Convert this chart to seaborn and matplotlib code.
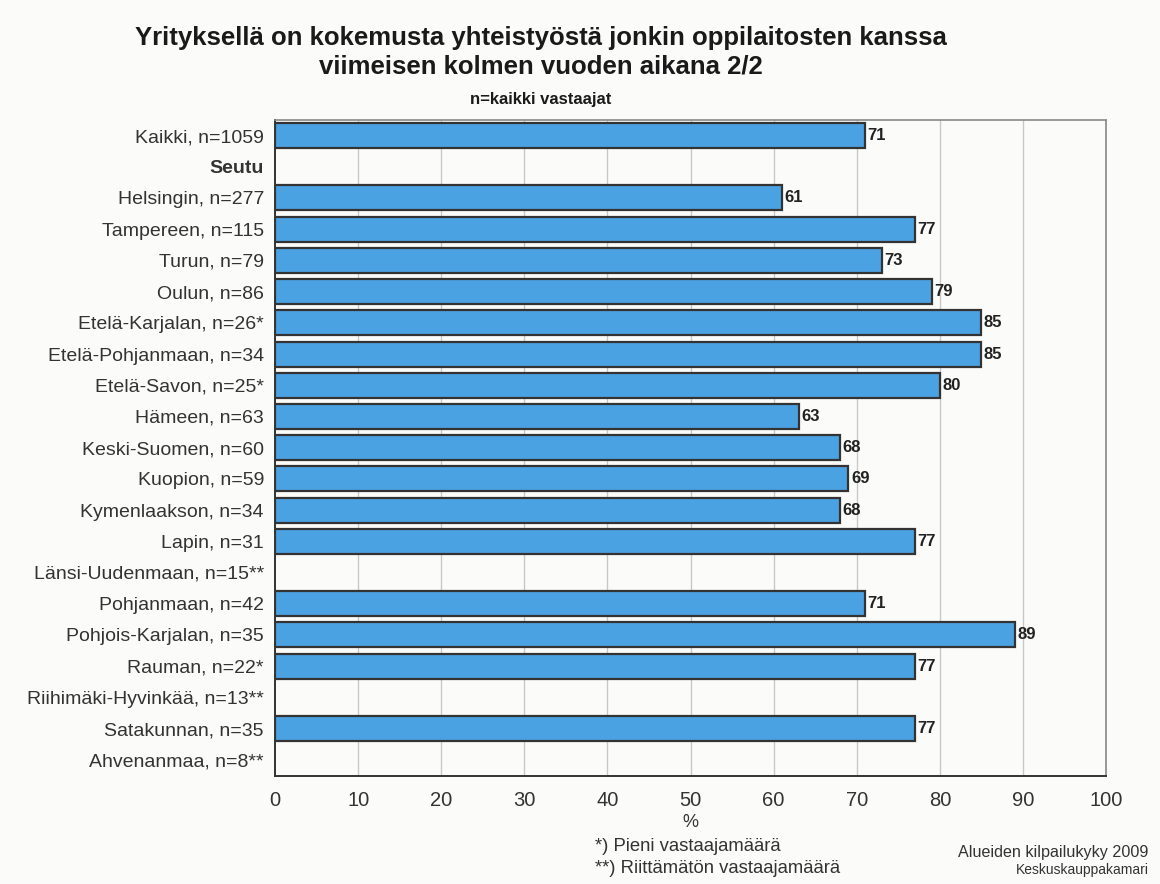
import matplotlib
matplotlib.use('Agg')
import matplotlib.pyplot as plt
import seaborn as sns
import pandas as pd
import numpy as np

# Data
categories = [
    'Kaikki, n=1059', 'Seutu', 'Helsingin, n=277', 'Tampereen, n=115',
    'Turun, n=79', 'Oulun, n=86', 'Etelä-Karjalan, n=26*',
    'Etelä-Pohjanmaan, n=34', 'Etelä-Savon, n=25*', 'Hämeen, n=63',
    'Keski-Suomen, n=60', 'Kuopion, n=59', 'Kymenlaakson, n=34',
    'Lapin, n=31', 'Länsi-Uudenmaan, n=15**', 'Pohjanmaan, n=42',
    'Pohjois-Karjalan, n=35', 'Rauman, n=22*', 'Riihimäki-Hyvinkää, n=13**',
    'Satakunnan, n=35', 'Ahvenanmaa, n=8**',
]
values = [71, np.nan, 61, 77, 73, 79, 85, 85, 80, 63, 68, 69, 68, 77,
          np.nan, 71, 89, 77, np.nan, 77, np.nan]
x_ticks = [0, 10, 20, 30, 40, 50, 60, 70, 80, 90, 100]

df = pd.DataFrame({'label': categories, 'pct': values})

sns.set_style('white')
plt.rcParams['font.family'] = ['Liberation Sans', 'DejaVu Sans']

fig = plt.figure(figsize=(11.6, 8.84), dpi=100, facecolor='#fbfbf9')
ax = fig.add_axes([0.2371, 0.1222, 0.7164, 0.7421])
ax.set_facecolor('#fbfbf9')

# vertical grid behind bars
for t in x_ticks[1:]:
    ax.axvline(t, color='#c8c8c8', linewidth=1.0, zorder=0)

sns.barplot(data=df.dropna(), x='pct', y='label', order=categories,
            orient='h', errorbar=None, color='#4ba2e3', saturation=1,
            edgecolor='#333333', linewidth=1.6, width=0.8, ax=ax, zorder=2)

# value labels
for i, v in enumerate(values):
    if not np.isnan(v):
        ax.text(v + 0.3, i, f'{v:.0f}', ha='left', va='center',
                fontsize=12, fontweight='bold', color='#222222')

ax.set_xlim(0, 100)
ax.set_ylim(len(categories) - 1 + 0.52, -0.5)
ax.set_xticks(x_ticks)
ax.set_xlabel('%', fontsize=13, color='#333333', labelpad=3)
ax.set_ylabel('')
ax.tick_params(axis='x', direction='out', length=8, width=1, colors='#444444',
               labelsize=14.5, labelcolor='#333333', pad=3)
ax.tick_params(axis='y', length=0, labelsize=14, labelcolor='#333333', pad=8)
for lbl in ax.get_yticklabels():
    if lbl.get_text() == 'Seutu':
        lbl.set_fontweight('bold')

for side in ['left', 'bottom']:
    ax.spines[side].set_color('#333333')
    ax.spines[side].set_linewidth(1.4)
for side in ['top', 'right']:
    ax.spines[side].set_color('#888888')
    ax.spines[side].set_linewidth(1.2)

# titles
fig.text(0.466, 0.957, 'Yrityksellä on kokemusta yhteistyöstä jonkin oppilaitosten kanssa',
         ha='center', va='center', fontsize=18.5, fontweight='bold', color='#1a1a1a')
fig.text(0.466, 0.925, 'viimeisen kolmen vuoden aikana 2/2',
         ha='center', va='center', fontsize=18.5, fontweight='bold', color='#1a1a1a')
fig.text(0.466, 0.887, 'n=kaikki vastaajat', ha='center', va='center',
         fontsize=12, fontweight='bold', color='#1a1a1a')

# footnotes
fig.text(0.513, 0.042, '*) Pieni vastaajamäärä', ha='left', va='center',
         fontsize=13.3, color='#333333')
fig.text(0.513, 0.018, '**) Riittämätön vastaajamäärä', ha='left', va='center',
         fontsize=13.3, color='#333333')
fig.text(0.99, 0.036, 'Alueiden kilpailukyky 2009', ha='right', va='center',
         fontsize=11.6, color='#333333')
fig.text(0.99, 0.016, 'Keskuskauppakamari', ha='right', va='center',
         fontsize=10, color='#333333')

fig.savefig('out.png', dpi=100, facecolor=fig.get_facecolor())
